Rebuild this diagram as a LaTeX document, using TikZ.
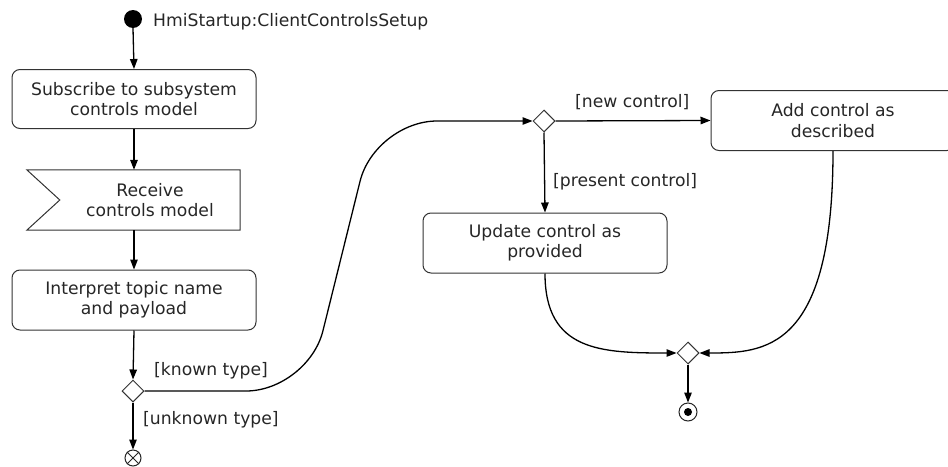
\documentclass[tikz,border=0pt]{standalone}
\usepackage{fontspec}
\setmainfont{DejaVu Sans}
\usetikzlibrary{shapes.geometric,arrows.meta,calc}
\begin{document}
\begin{tikzpicture}[x=1pt,y=-1pt,
  font=\fontsize{17.2}{20.5}\selectfont,
  act/.style={draw=black!80,line width=1pt,rounded corners=8pt,minimum width=244pt,minimum height=59pt,align=center,inner sep=0pt,text=black!85},
  dec/.style={diamond,draw=black!80,fill=white,line width=1pt,minimum width=22pt,minimum height=22pt,inner sep=0pt},
  arr/.style={draw=black,line width=1.3pt,-{Triangle[length=10pt,width=7.5pt]}},
  lbl/.style={anchor=base west,inner sep=0pt,text=black!85},
]
\useasboundingbox (0,0) rectangle (948,466);

% initial node and title
\node[circle,fill=black,minimum size=18pt,inner sep=0pt] (st) at (133,19) {};
\node[lbl] (title) at (153,26) {HmiStartup:ClientControlsSetup};

% actions
\node[act] (b1) at (134,99) {Subscribe to subsystem\\controls model};
\node[align=center,minimum width=180pt,minimum height=60pt,inner sep=0pt,text=black!85] (b2) at (150,200) {Receive\\controls model};
\draw[draw=black!80,line width=1pt] ($(b2.north west)+(-33,0)$) -- (b2.north east) -- (b2.south east) -- ($(b2.south west)+(-33,0)$) -- (b2.west) -- cycle;
\node[act,minimum height=60pt] (b3) at (134,300) {Interpret topic name\\and payload};
\node[act,minimum height=60pt] (b4) at (545,243) {Update control as\\provided};
\node[act,minimum height=60pt] (b5) at (833,120.5) {Add control as\\described};

% decisions
\node[dec] (d1) at (133,391) {};
\node[dec] (d2) at (544,121) {};
\node[dec] (d3) at (688,353) {};

% end nodes
\node[circle,draw=black!85,fill=white,line width=1pt,minimum size=16pt,inner sep=0pt] (ef) at (133,458) {};
\draw[black!85,line width=1pt] (ef.north west) -- (ef.south east) (ef.north east) -- (ef.south west);
\node[circle,draw=black!85,fill=white,line width=1pt,minimum size=18pt,inner sep=0pt] (fin) at (688,412) {};
\node[circle,fill=black,minimum size=8pt,inner sep=0pt] (fdot) at (fin.center) {};

% bend points of the long connector
\coordinate (k1) at (308,391);
\coordinate (k2) at (375,121);

% flows
\draw[arr] (st.south) -- (b1.north);
\draw[arr] (b1.south) -- (b1.south |- b2.north);
\draw[arr] (b1.south |- b2.south) -- (b3.north);
\draw[arr] (b3.south) -- (d1.north);
\draw[arr] (d1.south) -- (ef.north);
\draw[arr,rounded corners=62pt] (d1.east) -- (k1) -- (k2) -- (d2.west);
\draw[arr] (d2.east) -- (b5.west);
\draw[arr] (d2.south) -- (b4.north);
\draw[arr] (b4.south) .. controls +(0,78) and +(-75,0) .. (d3.west);
\draw[arr] (b5.south) .. controls +(0,200) and +(65,0) .. (d3.east);
\draw[arr] (d3.south) -- (fin.north);

% guards
\node[lbl] (g1) at (154,375) {[known type]};
\node[lbl] (g2) at (143,424) {[unknown type]};
\node[lbl] (g3) at (575,107) {[new control]};
\node[lbl] (g4) at (553,186) {[present control]};
\end{tikzpicture}
\end{document}
